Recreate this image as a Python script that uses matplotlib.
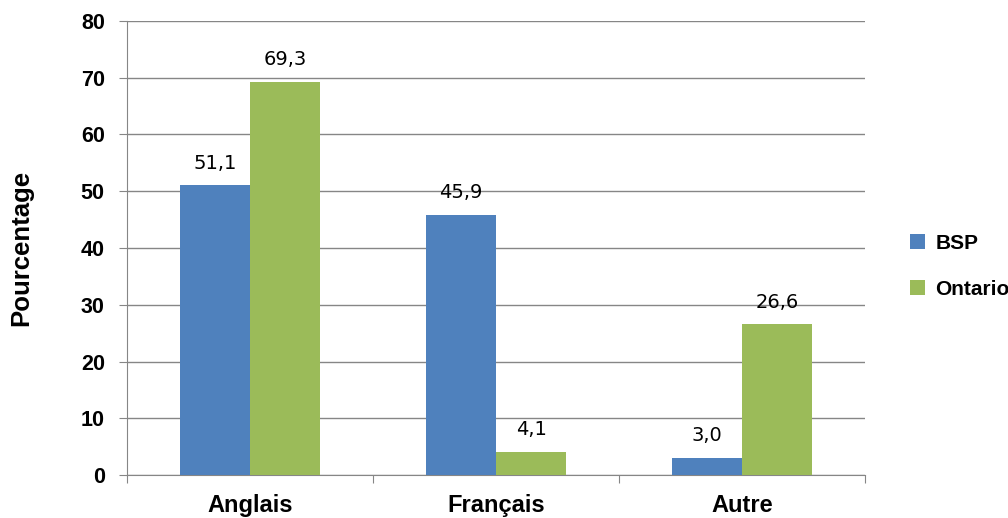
import matplotlib.pyplot as plt
import numpy as np

categories = ['Anglais', 'Français', 'Autre']
bsp = [51.1, 45.9, 3.0]
ontario = [69.3, 4.1, 26.6]
series_names = ['BSP', 'Ontario']
yticks = [0, 10, 20, 30, 40, 50, 60, 70, 80]

plt.rcParams['font.family'] = ['Liberation Sans Narrow', 'Liberation Sans', 'DejaVu Sans']

fig = plt.figure(figsize=(10.08, 5.18), dpi=100)
ax = fig.add_axes([127/1008, 43/518, 738/1008, 454/518])

x = np.arange(len(categories))
w = 0.285
b1 = ax.bar(x - w/2, bsp, w, color='#4F81BD', label=series_names[0], zorder=3)
b2 = ax.bar(x + w/2, ontario, w, color='#9BBB59', label=series_names[1], zorder=3)

for bars, vals in ((b1, bsp), (b2, ontario)):
    for b, v in zip(bars, vals):
        ax.annotate(f'{v:.1f}'.replace('.', ','), (b.get_x() + b.get_width()/2, v),
                    xytext=(0, 9), textcoords='offset points', ha='center', va='bottom',
                    fontsize=14, family='DejaVu Sans')

ax.set_xlim(-0.5, 2.5)
ax.set_ylim(0, 80)
ax.set_yticks(yticks)
ax.set_yticklabels([str(t) for t in yticks], fontsize=15.5, fontweight='bold', family='Liberation Sans')
ax.grid(axis='y', color='#868686', linewidth=1, zorder=0)

ax.set_xticks([-0.5, 0.5, 1.5, 2.5])
ax.set_xticklabels([])
ax.set_xticks(x, minor=True)
ax.set_xticklabels(categories, minor=True, fontsize=17, fontweight='bold')
ax.tick_params(axis='x', which='minor', length=0, pad=14)
ax.tick_params(axis='x', which='major', length=6, color='#868686')
ax.tick_params(axis='y', length=6, color='#868686', pad=10)

for s in ['top', 'right']:
    ax.spines[s].set_visible(False)
for s in ['left', 'bottom']:
    ax.spines[s].set_color('#868686')

ax.set_ylabel('Pourcentage', fontsize=18.5, fontweight='bold', family='Liberation Sans')
ax.yaxis.set_label_coords(-94/738, 0.5)

leg = ax.legend(loc='center left', bbox_to_anchor=(1.035, 0.46), frameon=False,
                prop={'size': 15, 'weight': 'bold', 'family': 'Liberation Sans'},
                handlelength=0.75, handleheight=0.75, handletextpad=0.5, labelspacing=1.3)

fig.savefig('out.png', dpi=100)
